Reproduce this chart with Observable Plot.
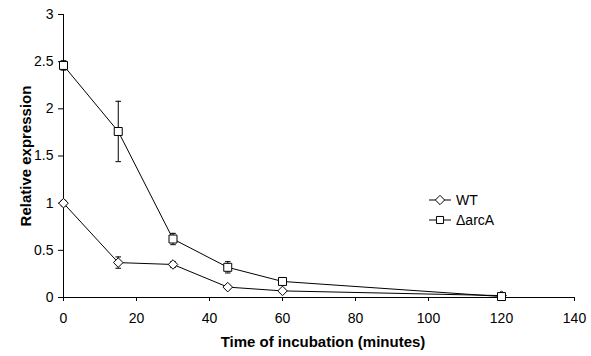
<!DOCTYPE html>
<html>
<head>
<meta charset="utf-8">
<script src="https://cdn.jsdelivr.net/npm/d3@7"></script>
<script src="https://cdn.jsdelivr.net/npm/@observablehq/plot@0.6"></script>
<style>
  html, body { margin: 0; padding: 0; background: #fff; }
  #wrap { position: relative; width: 591px; height: 356px; font-family: Arial, "Liberation Sans", sans-serif; }
  #legend { position: absolute; left: 428px; top: 190px; font-size: 14px; color: #000; }
  #legend .row { display: flex; align-items: center; height: 20px; }
  #legend svg { margin-right: 4px; }
</style>
</head>
<body>
<div id="wrap"></div>
<script>
// Data
const times = [0, 15, 30, 45, 60, 120];
const wtValues = [1.0, 0.37, 0.35, 0.11, 0.07, 0.02];
const wtErrors = [0.03, 0.06, 0.03, 0.02, 0.01, 0.01];
const arcAValues = [2.46, 1.76, 0.62, 0.32, 0.17, 0.01];
const arcAErrors = [0.05, 0.32, 0.06, 0.06, 0.02, 0.02];
const seriesNames = ["WT", "\u0394arcA"];
const xTicks = [0, 20, 40, 60, 80, 100, 120, 140];
const yTicks = [0, 0.5, 1, 1.5, 2, 2.5, 3];
const xTitle = "Time of incubation (minutes)";
const yTitle = "Relative expression";

const rows = [];
times.forEach((t, i) => {
  rows.push({series: seriesNames[0], t, v: wtValues[i], e: wtErrors[i]});
  rows.push({series: seriesNames[1], t, v: arcAValues[i], e: arcAErrors[i]});
});

const capSymbol = {
  draw(context, size) {
    context.moveTo(-2.8, 0);
    context.lineTo(2.8, 0);
  }
};

const chart = Plot.plot({
  width: 591,
  height: 356,
  marginLeft: 63,
  marginRight: 17,
  marginTop: 14,
  marginBottom: 59,
  style: {fontFamily: "Arial, 'Liberation Sans', sans-serif", fontSize: "14px", color: "#000", background: "#fff"},
  x: {domain: [0, 140]},
  y: {domain: [0, 3]},
  marks: [
    Plot.axisX({ticks: xTicks, tickSize: 4, tickPadding: 12, label: null, tickFormat: d => `${d}`}),
    Plot.axisY({ticks: yTicks, tickSize: 5, tickPadding: 5, label: null, tickFormat: d => `${d}`}),
    Plot.ruleX([0], {stroke: "#000"}),
    Plot.ruleY([0], {stroke: "#000"}),
    Plot.line(rows, {x: "t", y: "v", z: "series", stroke: "#000", strokeWidth: 1}),
    Plot.ruleX(rows, {x: "t", y1: d => d.v - d.e, y2: d => d.v + d.e, stroke: "#000", strokeWidth: 1}),
    Plot.dot(rows, {x: "t", y: d => d.v - d.e, symbol: () => capSymbol, r: 3, stroke: "#000", fill: "none", strokeWidth: 1}),
    Plot.dot(rows, {x: "t", y: d => d.v + d.e, symbol: () => capSymbol, r: 3, stroke: "#000", fill: "none", strokeWidth: 1}),
    Plot.dot(rows.filter(d => d.series === seriesNames[0]), {x: "t", y: "v", symbol: "diamond2", r: 4.3, fill: "#fff", stroke: "#000", strokeWidth: 1}),
    Plot.dot(rows.filter(d => d.series === seriesNames[1]), {x: "t", y: "v", symbol: "square", r: 4.5, fill: "#fff", stroke: "#000", strokeWidth: 1}),
    Plot.text([yTitle], {frameAnchor: "left", textAnchor: "middle", rotate: -90, dx: -37, fontWeight: "bold", fontSize: 15, fill: "#000"}),
    Plot.text([xTitle], {frameAnchor: "bottom", dy: 49, dx: 4, fontWeight: "bold", fontSize: 15, fill: "#000"})
  ]
});

const wrap = document.getElementById("wrap");
wrap.appendChild(chart);

// Legend
const legend = document.createElement("div");
legend.id = "legend";
seriesNames.forEach((name) => {
  const row = document.createElement("div");
  row.className = "row";
  const svg = d3.create("svg").attr("width", 24).attr("height", 12);
  svg.append("line").attr("x1", 1).attr("x2", 23).attr("y1", 6).attr("y2", 6).attr("stroke", "#000");
  svg.append("path")
    .attr("transform", "translate(12,6)")
    .attr("d", d3.symbol(name === seriesNames[0] ? d3.symbolDiamond2 : d3.symbolSquare, name === seriesNames[0] ? 55 : 50)())
    .attr("fill", "#fff").attr("stroke", "#000");
  row.appendChild(svg.node());
  const span = document.createElement("span");
  span.textContent = name;
  row.appendChild(span);
  legend.appendChild(row);
});
wrap.appendChild(legend);
</script>
</body>
</html>
